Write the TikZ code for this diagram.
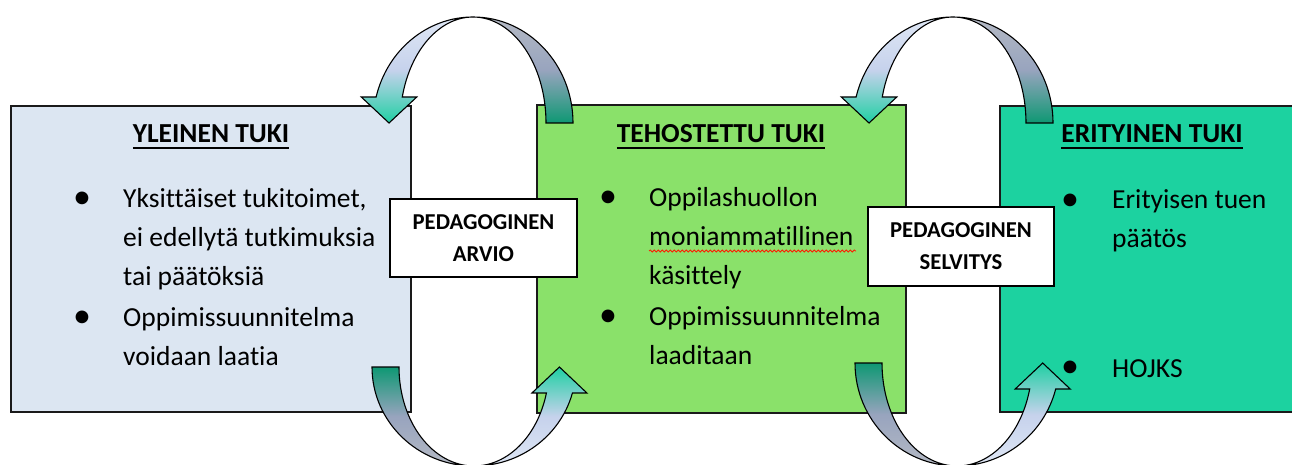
\documentclass[tikz,border=0pt]{standalone}
\usepackage{fontspec}
\setmainfont{Carlito}[Ligatures={TeX,NoCommon}]
\usepackage{tikz}
\usetikzlibrary{decorations.pathmorphing}
\definecolor{yleinenfill}{HTML}{DCE6F2}
\definecolor{tehostettufill}{HTML}{8AE16A}
\definecolor{erityinenfill}{HTML}{1CD2A0}
\definecolor{boxline}{HTML}{1A1A1A}
\definecolor{paavaalea}{HTML}{DFE7F5}
\definecolor{paakeski}{HTML}{C6D2EC}
\definecolor{paavihrea}{HTML}{1FCFA3}
\definecolor{hantaharmaa}{HTML}{B4B9C4}
\definecolor{hantakeski}{HTML}{98A4BE}
\definecolor{hantavihrea}{HTML}{0E9873}

% underlined title text
\newcommand{\alleviiva}[1]{\setbox0\hbox{#1}\rlap{\vrule height -3.8pt depth 5.6pt width \wd0}\box0}

% curved arrow over the top, head on the left (center x)
\newcommand{\ylakaari}[1]{%
    \shade[kaarireuna, top color=hantaharmaa, bottom color=hantavihrea, middle color=hantakeski]
        (#1,17) arc[start angle=270, end angle=360, x radius=100, y radius=106]
        -- ++(-27,0) arc[start angle=360, end angle=270, x radius=73, y radius=106] -- cycle;
    \shade[kaarireuna, top color=paavaalea, bottom color=paavihrea, middle color=paakeski]
        ({#1-96.9},97) arc[start angle=194.2, end angle=270, x radius=100, y radius=106]
        arc[start angle=270, end angle=194.2, x radius=73, y radius=106]
        -- ++(14.5,0) -- ++(-27.75,26) -- ++(-27.75,-26) -- cycle;
}
% curved arrow under the bottom, head on the right (center x, tail y)
\newcommand{\alakaari}[2]{%
    \shade[kaarireuna, top color=hantavihrea, bottom color=hantaharmaa, middle color=hantakeski]
        ({#1-102},#2) arc[start angle=180, end angle=90, x radius=102, y radius={466-#2}]
        arc[start angle=90, end angle=180, x radius=75, y radius={466-#2}] -- cycle;
    \shade[kaarireuna, top color=paavihrea, bottom color=paavaalea, middle color=paakeski]
        (#1,466) arc[start angle=90, end angle={asin(26/(466-#2))}, x radius=102, y radius={466-#2}]
        -- ++(14.5,0) -- ++(-27.5,-26) -- ++(-27.5,26) -- ++(14.5,0)
        arc[start angle={asin(26/(466-#2))}, end angle=90, x radius=75, y radius={466-#2}] -- cycle;
}

\begin{document}
\begin{tikzpicture}[x=1pt, y=-1pt,
    tukibox/.style={draw=boxline, line width=1.6pt, inner sep=0pt},
    otsikko/.style={font=\fontsize{27.5}{39}\selectfont\bfseries, anchor=base},
    leipis/.style={font=\fontsize{27.5}{39}\selectfont, align=left, anchor=base west, inner sep=0pt},
    luoti/.style={font=\fontsize{36}{39}\selectfont, inner sep=0pt},
    arviobox/.style={draw=black, line width=1.8pt, fill=white, align=center, font=\fontsize{22.7}{32}\selectfont\bfseries, inner sep=0pt},
    kaarireuna/.style={draw=black, line width=1.1pt}]

    \useasboundingbox (0,0) rectangle (1292,465);
    \clip (0,0) rectangle (1292,465);

    % === Boxes ===
    \node[tukibox, fill=yleinenfill, minimum width=400pt, minimum height=306pt] (yleinen) at (211,259) {};
    \node[tukibox, fill=tehostettufill, minimum width=369pt, minimum height=308pt] (tehostettu) at (721.5,259) {};
    \node[tukibox, fill=erityinenfill, minimum width=310pt, minimum height=306pt] (erityinen) at (1155,259) {};

    % === Yleinen tuki ===
    \node[otsikko] (yleinenotsikko) at (211,143) {\alleviiva{YLEINEN TUKI}};
    \node[luoti] (yb1) at (82,200) {•};
    \node[leipis] (yt1) at (123,285) {Yksittäiset tukitoimet,\\ei edellytä tutkimuksia\\tai päätöksiä};
    \node[luoti] (yb2) at (82,319) {•};
    \node[leipis] (yt2) at (123,365) {Oppimissuunnitelma\\voidaan laatia};

    % === Tehostettu tuki ===
    \node[otsikko] (tehostettuotsikko) at (721,143) {\alleviiva{TEHOSTETTU TUKI}};
    \node[luoti] (tb1) at (608,199) {•};
    \node[leipis] (tt1) at (649,284) {Oppilashuollon\\moniammatillinen\\käsittely};
    \node[luoti] (tb2) at (608,318) {•};
    \node[leipis] (tt2) at (649,364) {Oppimissuunnitelma\\laaditaan};
    \draw[red!80!orange, line width=0.8pt, decorate, decoration={snake, segment length=4pt, amplitude=1pt}] (649,251) -- (856,251);

    % === Erityinen tuki ===
    \node[otsikko] (erityinenotsikko) at (1152,143) {\alleviiva{ERITYINEN TUKI}};
    \node[luoti] (eb1) at (1070,202) {•};
    \node[leipis] (et1) at (1112,247) {Erityisen tuen\\päätös};
    \node[luoti] (eb2) at (1070,369) {•};
    \node[leipis] (et2) at (1112,377) {HOJKS};

    % === Curved arrows ===
    \ylakaari{473}
    \ylakaari{953}
    \alakaari{474}{367}
    \alakaari{957}{363}

    % === Labels ===
    \node[arviobox, minimum width=187pt, minimum height=78pt] (arvio) at (483.5,238) {PEDAGOGINEN\\ARVIO};
    \node[arviobox, minimum width=186pt, minimum height=79pt] (selvitys) at (961,246.5) {PEDAGOGINEN\\SELVITYS};
\end{tikzpicture}
\end{document}
